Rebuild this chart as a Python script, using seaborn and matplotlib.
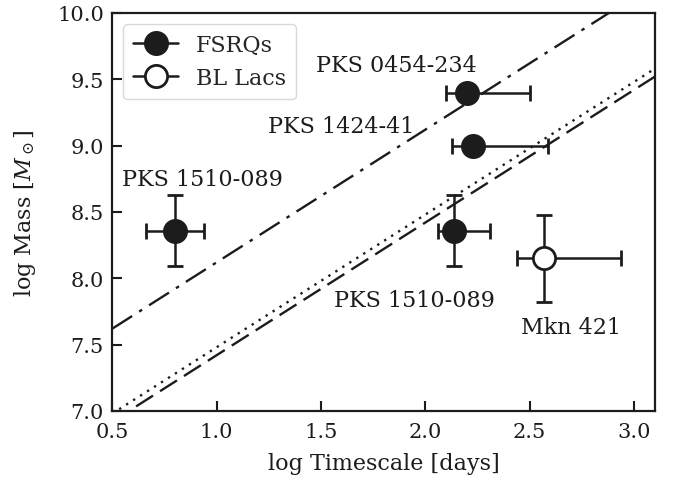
import numpy as np
import pandas as pd
import matplotlib
matplotlib.use("Agg")
import matplotlib.pyplot as plt
import seaborn as sns
from matplotlib.lines import Line2D

# ---- data ----
names = ["PKS 0454-234", "PKS 1424-41", "PKS 1510-089", "PKS 1510-089", "Mkn 421"]
log_t = [2.20, 2.23, 0.80, 2.14, 2.57]
log_t_lo = [0.10, 0.10, 0.14, 0.08, 0.13]
log_t_hi = [0.30, 0.36, 0.14, 0.17, 0.37]
log_m = [9.40, 9.00, 8.36, 8.36, 8.15]
log_m_err = [0.0, 0.0, 0.27, 0.27, 0.33]
kind = ["FSRQs", "FSRQs", "FSRQs", "FSRQs", "BL Lacs"]

line_x = [0.5, 3.1]
line_intercepts = [7.12, 6.48, 6.42]
line_styles = [(0, (10, 3.5, 1.5, 3.5)), (0, (1, 2.5)), (0, (8.5, 3.5))]

label_pos = [(1.476, 9.563), (1.246, 9.103), (0.548, 8.70), (1.562, 7.79), (2.457, 7.59)]

sns.set_style("ticks")
plt.rcParams['font.family'] = ['DejaVu Serif']
plt.rcParams['mathtext.fontset'] = 'dejavuserif'

fig = plt.figure(figsize=(6.8, 4.81), dpi=100)
ax = fig.add_axes([0.165, 0.1435, 0.798, 0.8275])

dark = "#1c1c1c"

for b, ls in zip(line_intercepts, line_styles):
    df = pd.DataFrame({"x": line_x, "y": [v + b for v in line_x]})
    sns.lineplot(data=df, x="x", y="y", ax=ax, color=dark, lw=1.7,
                 linestyle=ls, legend=False)

for i in range(len(names)):
    filled = kind[i] == "FSRQs"
    ax.errorbar(log_t[i], log_m[i],
                xerr=[[log_t_lo[i]], [log_t_hi[i]]],
                yerr=[[log_m_err[i]], [log_m_err[i]]] if log_m_err[i] > 0 else None,
                fmt="o", color=dark, mfc=dark if filled else "white",
                mec=dark, mew=2.0, ms=16, elinewidth=1.8, capsize=6, capthick=1.8,
                zorder=5)

for (tx, ty), n in zip(label_pos, names):
    ax.text(tx, ty, n, fontsize=16, color=dark, va="baseline", ha="left")

ax.set_xlim(0.5, 3.1)
ax.set_ylim(7.0, 10.0)
ax.set_xticks([0.5, 1.0, 1.5, 2.0, 2.5, 3.0])
ax.set_yticks([7.0, 7.5, 8.0, 8.5, 9.0, 9.5, 10.0])
ax.tick_params(direction="in", length=7, width=1.5, labelsize=15, colors=dark)
ax.tick_params(axis="x", pad=8)
ax.tick_params(axis="y", pad=6)
for s in ax.spines.values():
    s.set_linewidth(1.6)
    s.set_color(dark)
ax.set_xlabel("log Timescale [days]", fontsize=16, color=dark, labelpad=8)
ax.set_ylabel(r"log Mass [$M_\odot$]", fontsize=16, color=dark, labelpad=14)

handles = [Line2D([], [], color=dark, marker="o", ms=16, mfc=dark, mec=dark, mew=2, lw=1.8),
           Line2D([], [], color=dark, marker="o", ms=16, mfc="white", mec=dark, mew=2, lw=1.8)]
ax.legend(handles, ["FSRQs", "BL Lacs"], loc="upper left", fontsize=16,
          frameon=True, fancybox=True, framealpha=1, edgecolor="0.85",
          handlelength=2.0, borderpad=0.45, labelspacing=0.5, handletextpad=0.8)

fig.savefig("out.png", dpi=100)
